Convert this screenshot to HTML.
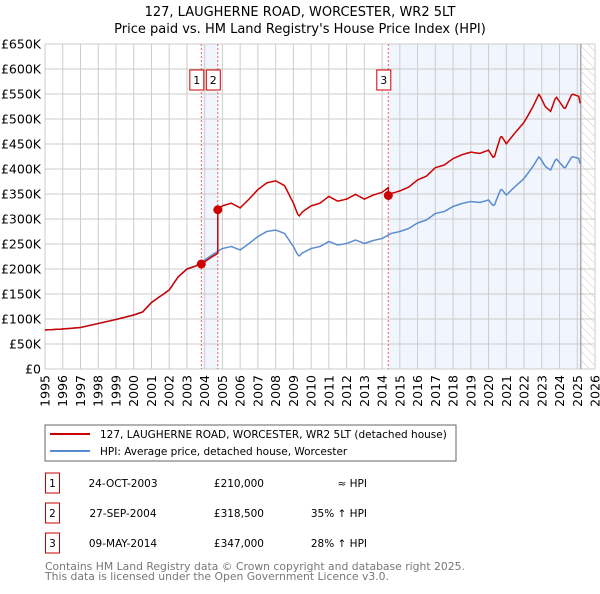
<!DOCTYPE html>
<html><head><meta charset="utf-8"><style>
body{margin:0;background:#fff;font-family:"DejaVu Sans","Liberation Sans",sans-serif;}
svg text{font-family:"DejaVu Sans","Liberation Sans",sans-serif;}
</style></head><body>
<svg id="chart" width="600" height="590" viewBox="0 0 600 590">
<defs><pattern id="hatch" width="6" height="6" patternUnits="userSpaceOnUse" patternTransform="rotate(-45)"><line x1="0" y1="0" x2="0" y2="6" stroke="#ccc" stroke-width="1"/></pattern></defs>
<text x="300" y="16" text-anchor="middle" font-size="13" fill="#000">127, LAUGHERNE ROAD, WORCESTER, WR2 5LT</text>
<text x="300" y="33" text-anchor="middle" font-size="13" fill="#000">Price paid vs. HM Land Registry's House Price Index (HPI)</text>
<g id="plot"></g>
<rect x="45" y="425" width="411" height="36" fill="#fff" stroke="#666"/>
<line x1="50" y1="434" x2="90" y2="434" stroke="#cc0000" stroke-width="2"/>
<text x="100" y="438" font-size="10.5">127, LAUGHERNE ROAD, WORCESTER, WR2 5LT (detached house)</text>
<line x1="50" y1="451" x2="90" y2="451" stroke="#5b8cd0" stroke-width="2"/>
<text x="100" y="455" font-size="10.5">HPI: Average price, detached house, Worcester</text>
<g id="table" font-size="10.5"></g>
<text x="45" y="570" font-size="10.8" fill="#777">Contains HM Land Registry data © Crown copyright and database right 2025.</text>
<text x="45" y="580" font-size="10.8" fill="#777">This data is licensed under the Open Government Licence v3.0.</text>
</svg>
<script>
const hpiYears=[1995,1996,1997,1998,1999,2000,2000.5,2001,2002,2002.5,2003,2003.5,2004,2004.5,2005,2005.5,2006,2006.5,2007,2007.5,2008,2008.5,2009,2009.3,2009.5,2010,2010.5,2011,2011.5,2012,2012.5,2013,2013.5,2014,2014.5,2015,2015.5,2016,2016.5,2017,2017.5,2018,2018.5,2019,2019.5,2020,2020.3,2020.7,2021,2021.5,2022,2022.5,2022.85,2023.2,2023.5,2023.8,2024.3,2024.7,2025.1,2025.2];
const hpiValues=[78,80,83,91,99,108,114,133,158,184,200,206,218,230,241,245,238,251,265,275,278,271,245,225,232,241,245,255,248,251,258,251,257,261,271,275,281,292,298,311,315,325,331,335,333,338,325,361,348,365,381,405,425,405,398,421,401,425,421,405];
const saleDates=[2003.81,2004.74,2014.35];
const salePrices=[210,318.5,347];
const saleLabels=["1","2","3"];
const saleDateText=["24-OCT-2003","27-SEP-2004","09-MAY-2014"];
const salePriceText=["£210,000","£318,500","£347,000"];
const saleHpiText=["≈ HPI","35% ↑ HPI","28% ↑ HPI"];
const yTicks=[0,50,100,150,200,250,300,350,400,450,500,550,600,650];
const yTickLabels=["£0","£50K","£100K","£150K","£200K","£250K","£300K","£350K","£400K","£450K","£500K","£550K","£600K","£650K"];
const xTicks=[1995,1996,1997,1998,1999,2000,2001,2002,2003,2004,2005,2006,2007,2008,2009,2010,2011,2012,2013,2014,2015,2016,2017,2018,2019,2020,2021,2022,2023,2024,2025,2026];
const dataEnd=2025.2;

const X0=45,X1=595,Y0=369,Y1=44;
const xs=v=>X0+(v-1995)/(2026-1995)*(X1-X0);
const ys=v=>Y0-(v/650)*(Y0-Y1);
const NS="http://www.w3.org/2000/svg";
const plot=document.getElementById('plot');
function mk(tag,attrs,parent){const e=document.createElementNS(NS,tag);for(const k in attrs)e.setAttribute(k,attrs[k]);(parent||plot).appendChild(e);return e;}
function hpiAt(t){for(let i=0;i<hpiYears.length-1;i++){if(t<=hpiYears[i+1]){const f=(t-hpiYears[i])/(hpiYears[i+1]-hpiYears[i]);return hpiValues[i]+f*(hpiValues[i+1]-hpiValues[i]);}}return hpiValues[hpiValues.length-1];}

let r=mk('rect',{x:xs(saleDates[0]),y:Y1,width:xs(saleDates[1])-xs(saleDates[0]),height:Y0-Y1,fill:'#eef3fc',opacity:0.8});

r=mk('rect',{x:xs(saleDates[2]),y:Y1,width:xs(dataEnd)-xs(saleDates[2]),height:Y0-Y1,fill:'#eef3fc',opacity:0.8});

r=mk('rect',{x:xs(dataEnd),y:Y1,width:X1-xs(dataEnd),height:Y0-Y1,fill:'url(#hatch)'});


yTicks.forEach((v,i)=>{
 let l=mk('line',{x1:X0,x2:X1,y1:ys(v),y2:ys(v),stroke:'#ccc','stroke-width':1});
 
 let t=mk('text',{x:X0-4,y:ys(v)+4.5,'text-anchor':'end','font-size':12.5});
 
 t.textContent=yTickLabels[i];
});
xTicks.forEach(v=>{
 let l=mk('line',{x1:xs(v),x2:xs(v),y1:Y1,y2:Y0,stroke:'#ccc','stroke-width':1});
 
 let t=mk('text',{x:0,y:0,'font-size':12.5,'text-anchor':'end',transform:`translate(${xs(v)+4.5},${Y0+6}) rotate(-90)`});
 
 t.textContent=v;
});
let ax=mk('rect',{x:X0,y:Y1,width:X1-X0,height:Y0-Y1,fill:'none',stroke:'#ccc'});

let el=mk('line',{x1:xs(dataEnd),x2:xs(dataEnd),y1:Y1,y2:Y0,stroke:'#999','stroke-width':1.2});


saleDates.forEach((d,i)=>{
 let l=mk('line',{x1:xs(d),x2:xs(d),y1:Y1,y2:Y0,stroke:'#f06060','stroke-width':1,'stroke-dasharray':'2,2'});
 
});
let pts=[];for(let t=1995;t<=dataEnd+0.0001;t+=1/12)pts.push([t,hpiAt(t)]);
let hp=mk('polyline',{points:pts.map(p=>xs(p[0]).toFixed(1)+','+ys(p[1]).toFixed(1)).join(' '),fill:'none',stroke:'#5b8cd0','stroke-width':1.5});

let all=[];
for(let t=1995;t<=dataEnd+0.0001;t+=1/12){
 let f=1;
 for(let k=0;k<saleDates.length;k++){if(t>=saleDates[k])f=salePrices[k]/hpiAt(saleDates[k]);}
 all.push([t,hpiAt(t)*f]);
}
saleDates.forEach((d,k)=>{const prevF=k===0?1:salePrices[k-1]/hpiAt(saleDates[k-1]);all.push([d-1e-6,hpiAt(d)*prevF]);all.push([d,salePrices[k]]);});
all.sort((a,b)=>a[0]-b[0]);
let pl=mk('polyline',{points:all.map(p=>xs(p[0]).toFixed(1)+','+ys(p[1]).toFixed(1)).join(' '),fill:'none',stroke:'#cc0000','stroke-width':1.5});

saleDates.forEach((d,i)=>{
 let c=mk('circle',{cx:xs(d),cy:ys(salePrices[i]),r:4.5,fill:'#cc0000'});
 
 const bx=xs(d)-11.5;
 let b=mk('rect',{x:bx,y:70,width:14,height:20,fill:'#fff',stroke:'#cc0000'});
 
 let t=mk('text',{x:bx+7,y:84,'text-anchor':'middle','font-size':11});
 
 t.textContent=saleLabels[i];
});
const tb=document.getElementById('table');
saleDates.forEach((d,i)=>{
 const cy=483+i*30;
 let b=mk('rect',{x:45.5,y:cy-10,width:14,height:20,fill:'#fff',stroke:'#cc0000'},tb);
 
 let t=mk('text',{x:52.5,y:cy+4,'text-anchor':'middle'},tb);
 t.textContent=saleLabels[i];
 t=mk('text',{x:123,y:cy+4,'text-anchor':'middle'},tb);
 t.textContent=saleDateText[i];
 t=mk('text',{x:264,y:cy+4,'text-anchor':'end'},tb);
 t.textContent=salePriceText[i];
 t=mk('text',{x:367,y:cy+4,'text-anchor':'end'},tb);
 t.textContent=saleHpiText[i];
});
</script>
</body></html>
